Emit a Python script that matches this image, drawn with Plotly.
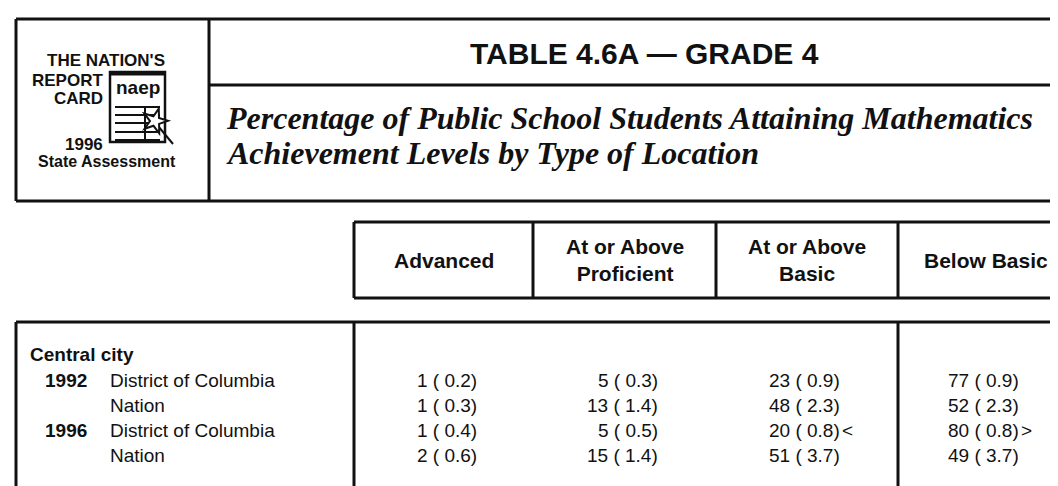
import math
import plotly.graph_objects as go

# ---------------- data ----------------
title = "TABLE 4.6A — GRADE 4"
subtitle_lines = ["Percentage of Public School Students Attaining Mathematics",
                  "Achievement Levels by Type of Location"]
column_labels = ["Advanced", "At or Above<br>Proficient", "At or Above<br>Basic", "Below Basic"]
group_label = "Central city"
years = ["1992", "", "1996", ""]
jurisdictions = ["District of Columbia", "Nation", "District of Columbia", "Nation"]

advanced = [1, 1, 1, 2]
advanced_se = [0.2, 0.3, 0.4, 0.6]
proficient = [5, 13, 5, 15]
proficient_se = [0.3, 1.4, 0.5, 1.4]
basic = [23, 48, 20, 51]
basic_se = [0.9, 2.3, 0.8, 3.7]
below_basic = [77, 52, 80, 49]
below_basic_se = [0.9, 2.3, 0.8, 3.7]
basic_flags = ["", "", "<", ""]
below_basic_flags = ["", "", ">", ""]

# ---------------- layout geometry ----------------
W, H = 1058, 486
LEFT = 8
RIGHT = 1075
TOP_Y, SEP_Y, TOPBOX_BOTTOM = 11, 77, 193
TOP_DIV_X = 201
HDR_TOP, HDR_BOTTOM = 214, 290
DATA_TOP = 314
COL_EDGES = [346, 525, 708, 890, 1066]
ROW0_Y, ROW_STEP = 372, 25.3
GROUP_Y = 346
VAL_OFFSET = 35

SANS = "Liberation Sans, Arial, Helvetica, sans-serif"
NARROW = "Liberation Sans Narrow, Liberation Sans, Arial, sans-serif"
SERIF = "Liberation Serif, Times New Roman, serif"
INK = "#111111"

fig = go.Figure()
shapes = []
ann = []


def line(x0, y0, x1, y1, w=3):
    shapes.append(dict(type="line", x0=x0, y0=y0, x1=x1, y1=y1, xref="x", yref="y",
                       line=dict(color=INK, width=w)))


def text(x, y, s, size, family=SANS, xanchor="center", yanchor="middle", bold=False, italic=False):
    if bold:
        s = "<b>" + s + "</b>"
    if italic:
        s = "<i>" + s + "</i>"
    ann.append(dict(x=x, y=y, xref="x", yref="y", text=s, showarrow=False,
                    xanchor=xanchor, yanchor=yanchor,
                    font=dict(family=family, size=size, color=INK)))


# top box
line(LEFT, TOP_Y, RIGHT, TOP_Y)
line(LEFT, TOPBOX_BOTTOM, RIGHT, TOPBOX_BOTTOM)
line(LEFT, TOP_Y, LEFT, TOPBOX_BOTTOM)
line(TOP_DIV_X, TOP_Y, TOP_DIV_X, TOPBOX_BOTTOM)
line(TOP_DIV_X, SEP_Y, RIGHT, SEP_Y)

# title & subtitle
text(636, (TOP_Y + SEP_Y) / 2 + 1, title, 30, bold=True)
for i, s in enumerate(subtitle_lines):
    text(216, 110 + i * 35, s, 32, family=SERIF, xanchor="left", bold=True, italic=True)

# logo
text(159, 52, "THE NATION'S", 17, family=NARROW, xanchor="right", bold=True)
text(97, 72, "REPORT", 17, family=NARROW, xanchor="right", bold=True)
text(97, 90, "CARD", 17, family=NARROW, xanchor="right", bold=True)
text(97, 136, "1996", 17, family=NARROW, xanchor="right", bold=True)
text(99, 153, "State Assessment", 16, family=NARROW, bold=True)
shapes.append(dict(type="rect", x0=102, y0=64, x1=157, y1=134, xref="x", yref="y",
                   line=dict(color=INK, width=2.5), fillcolor="white"))
line(102, 66, 157, 66, 3)
text(130, 79, "naep", 19, family=SANS, bold=True)
for yy in [99, 107, 115, 124, 132]:
    line(107, yy, 152, yy, 2)
line(137, 99, 137, 133, 2)
# star with tail
line(150, 118, 165, 136, 2)
cx, cy, r1, r2 = 147, 113, 13, 5
pts = []
for k in range(10):
    a = -math.pi / 2 + 0.3 + k * math.pi / 5
    r = r1 if k % 2 == 0 else r2
    pts.append((cx + r * math.cos(a), cy + r * math.sin(a)))
path = "M " + " L ".join(f"{px:.1f},{py:.1f}" for px, py in pts) + " Z"
shapes.append(dict(type="path", path=path, xref="x", yref="y",
                   line=dict(color=INK, width=2), fillcolor="white"))

# header box
line(COL_EDGES[0], HDR_TOP, RIGHT, HDR_TOP)
line(COL_EDGES[0], HDR_BOTTOM, RIGHT, HDR_BOTTOM)
for xe in COL_EDGES[:-1]:
    line(xe, HDR_TOP, xe, HDR_BOTTOM)
hdr_mid = (HDR_TOP + HDR_BOTTOM) / 2
for j, lab in enumerate(column_labels):
    cxm = (COL_EDGES[j] + COL_EDGES[j + 1]) / 2
    text(cxm, hdr_mid, lab, 21, bold=True)

# data box
line(LEFT, DATA_TOP, RIGHT, DATA_TOP)
line(LEFT, DATA_TOP, LEFT, H + 5)
line(COL_EDGES[0], DATA_TOP, COL_EDGES[0], H + 5)
line(COL_EDGES[3], DATA_TOP, COL_EDGES[3], H + 5)

text(20, GROUP_Y, group_label, 19, xanchor="left", bold=True)
cols = [(advanced, advanced_se, None), (proficient, proficient_se, None),
        (basic, basic_se, basic_flags), (below_basic, below_basic_se, below_basic_flags)]
for i in range(len(jurisdictions)):
    yy = ROW0_Y + i * ROW_STEP
    if years[i]:
        text(35, yy, years[i], 19, xanchor="left", bold=True)
    text(100, yy, jurisdictions[i], 19, xanchor="left")
    for j, (vals, ses, flags) in enumerate(cols):
        cxm = (COL_EDGES[j] + COL_EDGES[j + 1]) / 2
        xr = cxm + VAL_OFFSET
        text(xr, yy, f"{vals[i]} ( {ses[i]:.1f})", 19, xanchor="right")
        if flags and flags[i]:
            text(xr - 2, yy, flags[i], 19, xanchor="left")

fig.update_layout(
    width=W, height=H, margin=dict(l=0, r=0, t=0, b=0),
    paper_bgcolor="white", plot_bgcolor="white",
    xaxis=dict(range=[0, W], visible=False, fixedrange=True),
    yaxis=dict(range=[H, 0], visible=False, fixedrange=True),
    shapes=shapes, annotations=ann, showlegend=False,
)
fig.write_html("out.html")
